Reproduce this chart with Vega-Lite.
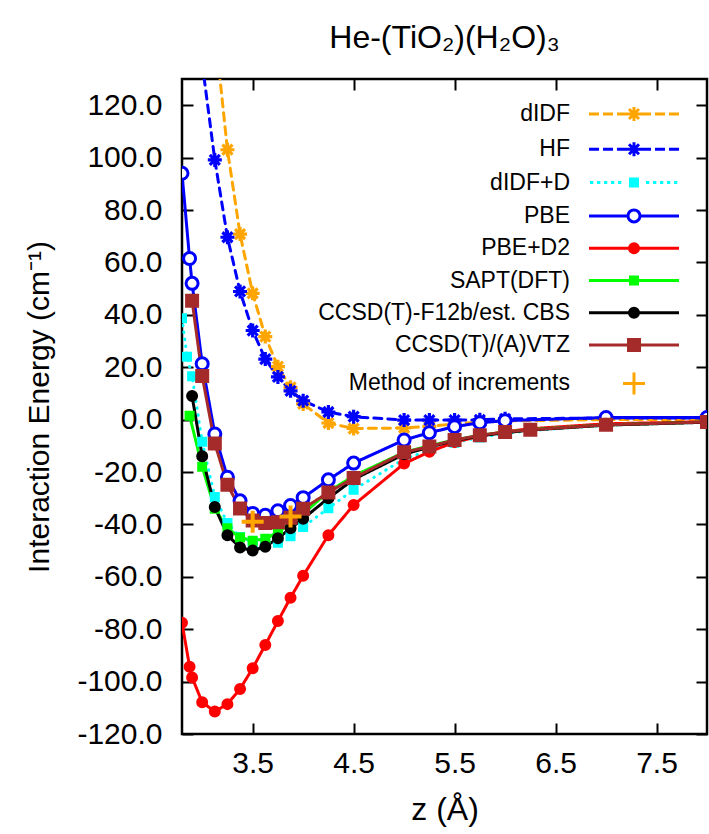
{
  "$schema": "https://vega.github.io/schema/vega-lite/v6.json",
  "width": 525,
  "height": 655,
  "autosize": {"type": "none"},
  "padding": {"left": 182, "top": 79, "right": 2, "bottom": 100},
  "background": "white",
  "title": {"text": "He-(TiO₂)(H₂O)₃", "fontSize": 32, "font": "Liberation Sans", "fontWeight": "normal", "color": "black", "anchor": "middle", "frame": "group", "offset": 23},
  "config": {"view": {"stroke": "black", "strokeWidth": 2.5}, "font": "Liberation Sans"},
  "data": {"values": [
    {"m":"dIDF","z":3.125,"e":149},{"m":"dIDF","z":3.25,"e":103.0},{"m":"dIDF","z":3.375,"e":70.8},{"m":"dIDF","z":3.5,"e":48.2},{"m":"dIDF","z":3.625,"e":31.7},{"m":"dIDF","z":3.75,"e":20.2},{"m":"dIDF","z":3.875,"e":12.3},{"m":"dIDF","z":4.0,"e":6.0},{"m":"dIDF","z":4.25,"e":-1.3},{"m":"dIDF","z":4.5,"e":-3.4},{"m":"dIDF","z":5.0,"e":-3.2},{"m":"dIDF","z":5.25,"e":-2.6},{"m":"dIDF","z":5.5,"e":-1.6},{"m":"dIDF","z":5.75,"e":-0.9},{"m":"dIDF","z":6.0,"e":-0.5},{"m":"dIDF","z":7.0,"e":0.0},{"m":"dIDF","z":8.0,"e":0.0},
    {"m":"HF","z":3.0,"e":136},{"m":"HF","z":3.125,"e":99.1},{"m":"HF","z":3.25,"e":69.6},{"m":"HF","z":3.375,"e":48.9},{"m":"HF","z":3.5,"e":34.0},{"m":"HF","z":3.625,"e":23.1},{"m":"HF","z":3.75,"e":16.3},{"m":"HF","z":3.875,"e":11.0},{"m":"HF","z":4.0,"e":7.2},{"m":"HF","z":4.25,"e":2.9},{"m":"HF","z":4.5,"e":1.1},{"m":"HF","z":5.0,"e":-0.2},{"m":"HF","z":5.25,"e":-0.2},{"m":"HF","z":5.5,"e":-0.2},{"m":"HF","z":5.75,"e":-0.1},{"m":"HF","z":6.0,"e":0.3},{"m":"HF","z":7.0,"e":0.6},{"m":"HF","z":8.0,"e":0.6},
    {"m":"dIDF+D","z":2.8,"e":38.7},{"m":"dIDF+D","z":2.85,"e":24.0},{"m":"dIDF+D","z":2.9,"e":16.5},{"m":"dIDF+D","z":3.0,"e":-8.5},{"m":"dIDF+D","z":3.125,"e":-29.5},{"m":"dIDF+D","z":3.25,"e":-39.5},{"m":"dIDF+D","z":3.375,"e":-44.8},{"m":"dIDF+D","z":3.5,"e":-46.8},{"m":"dIDF+D","z":3.625,"e":-47.5},{"m":"dIDF+D","z":3.75,"e":-47.0},{"m":"dIDF+D","z":3.875,"e":-44.5},{"m":"dIDF+D","z":4.0,"e":-41.0},{"m":"dIDF+D","z":4.25,"e":-33.8},{"m":"dIDF+D","z":4.5,"e":-26.8},{"m":"dIDF+D","z":5.0,"e":-15.0},{"m":"dIDF+D","z":5.25,"e":-11.8},{"m":"dIDF+D","z":5.5,"e":-8.8},{"m":"dIDF+D","z":5.75,"e":-6.8},{"m":"dIDF+D","z":6.0,"e":-5.3},{"m":"dIDF+D","z":6.25,"e":-4.2},{"m":"dIDF+D","z":7.0,"e":-2.2},{"m":"dIDF+D","z":8.0,"e":-1.0},
    {"m":"PBE","z":2.8,"e":94.0},{"m":"PBE","z":2.875,"e":61.5},{"m":"PBE","z":2.9,"e":52.0},{"m":"PBE","z":3.0,"e":21.3},{"m":"PBE","z":3.125,"e":-5.5},{"m":"PBE","z":3.25,"e":-22.0},{"m":"PBE","z":3.375,"e":-31.0},{"m":"PBE","z":3.5,"e":-35.8},{"m":"PBE","z":3.625,"e":-36.5},{"m":"PBE","z":3.75,"e":-34.8},{"m":"PBE","z":3.875,"e":-32.8},{"m":"PBE","z":4.0,"e":-29.8},{"m":"PBE","z":4.25,"e":-23.0},{"m":"PBE","z":4.5,"e":-16.6},{"m":"PBE","z":5.0,"e":-7.8},{"m":"PBE","z":5.25,"e":-5.0},{"m":"PBE","z":5.5,"e":-2.7},{"m":"PBE","z":5.75,"e":-1.2},{"m":"PBE","z":6.0,"e":-0.4},{"m":"PBE","z":7.0,"e":0.8},{"m":"PBE","z":8.0,"e":0.8},
    {"m":"PBE+D2","z":2.8,"e":-77.5},{"m":"PBE+D2","z":2.875,"e":-94.3},{"m":"PBE+D2","z":2.9,"e":-98.4},{"m":"PBE+D2","z":3.0,"e":-107.9},{"m":"PBE+D2","z":3.125,"e":-111.4},{"m":"PBE+D2","z":3.25,"e":-108.6},{"m":"PBE+D2","z":3.375,"e":-102.8},{"m":"PBE+D2","z":3.5,"e":-94.9},{"m":"PBE+D2","z":3.625,"e":-86.0},{"m":"PBE+D2","z":3.75,"e":-76.9},{"m":"PBE+D2","z":3.875,"e":-68.0},{"m":"PBE+D2","z":4.0,"e":-59.6},{"m":"PBE+D2","z":4.25,"e":-44.1},{"m":"PBE+D2","z":4.5,"e":-32.6},{"m":"PBE+D2","z":5.0,"e":-16.8},{"m":"PBE+D2","z":5.25,"e":-12.3},{"m":"PBE+D2","z":5.5,"e":-8.6},{"m":"PBE+D2","z":5.75,"e":-6.3},{"m":"PBE+D2","z":6.0,"e":-4.6},{"m":"PBE+D2","z":6.25,"e":-3.5},{"m":"PBE+D2","z":7.0,"e":-1.6},{"m":"PBE+D2","z":8.0,"e":-0.8},
    {"m":"SAPT(DFT)","z":2.875,"e":1.5},{"m":"SAPT(DFT)","z":3.0,"e":-18.0},{"m":"SAPT(DFT)","z":3.125,"e":-34.0},{"m":"SAPT(DFT)","z":3.25,"e":-41.5},{"m":"SAPT(DFT)","z":3.375,"e":-45.0},{"m":"SAPT(DFT)","z":3.5,"e":-46.2},{"m":"SAPT(DFT)","z":3.625,"e":-45.5},{"m":"SAPT(DFT)","z":3.75,"e":-43.0},{"m":"SAPT(DFT)","z":3.875,"e":-39.5},{"m":"SAPT(DFT)","z":4.0,"e":-36.0},{"m":"SAPT(DFT)","z":4.25,"e":-27.5},{"m":"SAPT(DFT)","z":4.5,"e":-21.5},{"m":"SAPT(DFT)","z":5.0,"e":-12.5},{"m":"SAPT(DFT)","z":5.25,"e":-10.0},{"m":"SAPT(DFT)","z":5.5,"e":-7.8},{"m":"SAPT(DFT)","z":5.75,"e":-6.0},{"m":"SAPT(DFT)","z":6.0,"e":-4.8},{"m":"SAPT(DFT)","z":6.25,"e":-3.8},{"m":"SAPT(DFT)","z":7.0,"e":-2.0},{"m":"SAPT(DFT)","z":8.0,"e":-0.9},
    {"m":"CCSD(T)-F12b/est. CBS","z":2.9,"e":9.0},{"m":"CCSD(T)-F12b/est. CBS","z":3.0,"e":-14.0},{"m":"CCSD(T)-F12b/est. CBS","z":3.125,"e":-33.4},{"m":"CCSD(T)-F12b/est. CBS","z":3.25,"e":-44.1},{"m":"CCSD(T)-F12b/est. CBS","z":3.375,"e":-48.8},{"m":"CCSD(T)-F12b/est. CBS","z":3.5,"e":-50.0},{"m":"CCSD(T)-F12b/est. CBS","z":3.625,"e":-48.5},{"m":"CCSD(T)-F12b/est. CBS","z":3.75,"e":-45.3},{"m":"CCSD(T)-F12b/est. CBS","z":3.875,"e":-41.5},{"m":"CCSD(T)-F12b/est. CBS","z":4.0,"e":-37.8},{"m":"CCSD(T)-F12b/est. CBS","z":4.25,"e":-30.0},{"m":"CCSD(T)-F12b/est. CBS","z":4.5,"e":-22.8},{"m":"CCSD(T)-F12b/est. CBS","z":5.0,"e":-13.2},{"m":"CCSD(T)-F12b/est. CBS","z":5.25,"e":-10.5},{"m":"CCSD(T)-F12b/est. CBS","z":5.5,"e":-8.0},{"m":"CCSD(T)-F12b/est. CBS","z":5.75,"e":-6.2},{"m":"CCSD(T)-F12b/est. CBS","z":6.0,"e":-5.0},{"m":"CCSD(T)-F12b/est. CBS","z":6.25,"e":-4.0},{"m":"CCSD(T)-F12b/est. CBS","z":7.0,"e":-2.1},{"m":"CCSD(T)-F12b/est. CBS","z":8.0,"e":-1.0},
    {"m":"CCSD(T)/(A)VTZ","z":2.9,"e":45.4},{"m":"CCSD(T)/(A)VTZ","z":3.0,"e":16.6},{"m":"CCSD(T)/(A)VTZ","z":3.125,"e":-9.1},{"m":"CCSD(T)/(A)VTZ","z":3.25,"e":-24.9},{"m":"CCSD(T)/(A)VTZ","z":3.375,"e":-33.9},{"m":"CCSD(T)/(A)VTZ","z":3.5,"e":-38.5},{"m":"CCSD(T)/(A)VTZ","z":3.625,"e":-39.5},{"m":"CCSD(T)/(A)VTZ","z":3.75,"e":-39.2},{"m":"CCSD(T)/(A)VTZ","z":3.875,"e":-37.5},{"m":"CCSD(T)/(A)VTZ","z":4.0,"e":-34.0},{"m":"CCSD(T)/(A)VTZ","z":4.25,"e":-27.8},{"m":"CCSD(T)/(A)VTZ","z":4.5,"e":-22.3},{"m":"CCSD(T)/(A)VTZ","z":5.0,"e":-12.5},{"m":"CCSD(T)/(A)VTZ","z":5.25,"e":-10.3},{"m":"CCSD(T)/(A)VTZ","z":5.5,"e":-7.8},{"m":"CCSD(T)/(A)VTZ","z":5.75,"e":-6.0},{"m":"CCSD(T)/(A)VTZ","z":6.0,"e":-4.7},{"m":"CCSD(T)/(A)VTZ","z":6.25,"e":-3.9},{"m":"CCSD(T)/(A)VTZ","z":7.0,"e":-2.0},{"m":"CCSD(T)/(A)VTZ","z":8.0,"e":-0.9},
    {"m":"Method of increments","z":3.5,"e":-39.0},{"m":"Method of increments","z":3.875,"e":-37.0}
  ]},
  "layer": [
    {
      "transform": [{"filter": "datum.m !== 'Method of increments'"}],
      "mark": {"type": "line", "strokeWidth": 3, "clip": true, "strokeCap": "round", "strokeJoin": "round"},
      "encoding": {
        "x": {"field": "z", "type": "quantitative", "scale": {"domain": [2.8, 8.0], "nice": false, "zero": false},
          "axis": {"orient": "bottom", "values": [3.5, 4.5, 5.5, 6.5, 7.5], "format": ".1f", "labelFontSize": 30, "labelFont": "Liberation Sans", "labelColor": "black", "tickSize": -11, "tickWidth": 2, "tickColor": "black", "domain": false, "grid": false, "labelPadding": 25, "labelFlush": false, "labelOverlap": false, "title": "z (Å)", "titleFontSize": 32, "titleFont": "Liberation Sans", "titleFontWeight": "normal", "titleColor": "black", "titlePadding": 16}},
        "y": {"field": "e", "type": "quantitative", "scale": {"domain": [-120, 130], "nice": false, "zero": false},
          "axis": {"orient": "left", "values": [-120, -100, -80, -60, -40, -20, 0, 20, 40, 60, 80, 100, 120], "labelExpr": "replace(format(datum.value, '.1f'), '\u2212', '-')", "labelFontSize": 30, "labelFont": "Liberation Sans", "labelColor": "black", "tickSize": -11, "tickWidth": 2, "tickColor": "black", "domain": false, "grid": false, "labelPadding": 31, "labelFlush": false, "labelOverlap": false, "title": "Interaction Energy (cm⁻¹)", "titleFontSize": 30, "titleFont": "Liberation Sans", "titleFontWeight": "normal", "titleColor": "black", "titlePadding": 22}},
        "stroke": {"field": "m", "type": "nominal"},
        "strokeDash": {"field": "m", "type": "nominal", "legend": null,
          "scale": {"domain": ["dIDF", "HF", "dIDF+D", "PBE", "PBE+D2", "SAPT(DFT)", "CCSD(T)-F12b/est. CBS", "CCSD(T)/(A)VTZ"],
                    "range": [[8, 6], [8, 6], [0.5, 6.5], [1, 0], [1, 0], [1, 0], [1, 0], [1, 0]]}}
      }
    },
    {
      "transform": [{"filter": {"field": "m", "oneOf": ["dIDF", "HF"]}}],
      "mark": {"type": "point", "shape": "M-1.4,0H1.4M0,-1.4V1.4M-1,-1L1,1M-1,1L1,-1", "size": 100, "filled": false, "strokeWidth": 3.2, "opacity": 1, "clip": true},
      "encoding": {
        "x": {"field": "z", "type": "quantitative", "axis": null},
        "y": {"field": "e", "type": "quantitative", "axis": null},
        "stroke": {"field": "m", "type": "nominal"}
      }
    },
    {
      "transform": [{"filter": {"field": "m", "oneOf": ["dIDF+D", "SAPT(DFT)"]}}],
      "mark": {"type": "point", "shape": "M-0.7,-0.7H0.7V0.7H-0.7Z", "size": 100, "filled": true, "strokeWidth": 3, "opacity": 1, "clip": true},
      "encoding": {
        "x": {"field": "z", "type": "quantitative", "axis": null},
        "y": {"field": "e", "type": "quantitative", "axis": null},
        "stroke": {"field": "m", "type": "nominal"},
        "fill": {"field": "m", "type": "nominal"}
      }
    },
    {
      "transform": [{"filter": {"field": "m", "oneOf": ["PBE"]}}],
      "mark": {"type": "point", "shape": "M-1.2,0A1.2,1.2,0,1,1,1.2,0A1.2,1.2,0,1,1,-1.2,0Z", "size": 100, "filled": true, "strokeWidth": 3, "opacity": 1, "clip": true},
      "encoding": {
        "x": {"field": "z", "type": "quantitative", "axis": null},
        "y": {"field": "e", "type": "quantitative", "axis": null},
        "stroke": {"field": "m", "type": "nominal"},
        "fill": {"field": "m", "type": "nominal"}
      }
    },
    {
      "transform": [{"filter": {"field": "m", "oneOf": ["PBE+D2", "CCSD(T)-F12b/est. CBS"]}}],
      "mark": {"type": "point", "shape": "M-0.9,0A0.9,0.9,0,1,1,0.9,0A0.9,0.9,0,1,1,-0.9,0Z", "size": 100, "filled": true, "strokeWidth": 3, "opacity": 1, "clip": true},
      "encoding": {
        "x": {"field": "z", "type": "quantitative", "axis": null},
        "y": {"field": "e", "type": "quantitative", "axis": null},
        "stroke": {"field": "m", "type": "nominal"},
        "fill": {"field": "m", "type": "nominal"}
      }
    },
    {
      "transform": [{"filter": {"field": "m", "oneOf": ["CCSD(T)/(A)VTZ"]}}],
      "mark": {"type": "point", "shape": "M-1.1,-1.1H1.1V1.1H-1.1Z", "size": 100, "filled": true, "strokeWidth": 3, "opacity": 1, "clip": true},
      "encoding": {
        "x": {"field": "z", "type": "quantitative", "axis": null},
        "y": {"field": "e", "type": "quantitative", "axis": null},
        "stroke": {"field": "m", "type": "nominal"},
        "fill": {"field": "m", "type": "nominal"}
      }
    },
    {
      "transform": [{"filter": {"field": "m", "oneOf": ["Method of increments"]}}],
      "mark": {"type": "point", "shape": "M-2.2,0H2.2M0,-2.2V2.2", "size": 100, "filled": false, "strokeWidth": 4, "opacity": 1, "clip": true},
      "encoding": {
        "x": {"field": "z", "type": "quantitative", "axis": null},
        "y": {"field": "e", "type": "quantitative", "axis": null},
        "stroke": {"field": "m", "type": "nominal"}
      }
    },
    {
      "mark": {"type": "point", "filled": true, "opacity": 0, "size": 100, "clip": true},
      "encoding": {
        "x": {"field": "z", "type": "quantitative",
          "axis": {"orient": "top", "values": [3.5, 4.5, 5.5, 6.5, 7.5], "labels": false, "tickSize": -11, "tickWidth": 2, "tickColor": "black", "domain": false, "grid": false, "title": null}},
        "y": {"field": "e", "type": "quantitative",
          "axis": {"orient": "right", "values": [-120, -100, -80, -60, -40, -20, 0, 20, 40, 60, 80, 100, 120], "labels": false, "tickSize": -11, "tickWidth": 2, "tickColor": "black", "domain": false, "grid": false, "title": null}},
        "shape": {"field": "m", "type": "nominal",
          "scale": {"domain": ["dIDF", "HF", "dIDF+D", "PBE", "PBE+D2", "SAPT(DFT)", "CCSD(T)-F12b/est. CBS", "CCSD(T)/(A)VTZ", "Method of increments"],
                    "range": [
                      "M-9,0H-7M-6.2,0H-4.2M-3.4,0H-1.4M1.4,0H3.4M4.2,0H6.2M7,0H9M-1.4,0H1.4M0,-1.4V1.4M-1,-1L1,1M-1,1L1,-1",
                      "M-9,0H-7M-6.2,0H-4.2M-3.4,0H-1.4M1.4,0H3.4M4.2,0H6.2M7,0H9M-1.4,0H1.4M0,-1.4V1.4M-1,-1L1,1M-1,1L1,-1",
                      "M-8.8,0H-8.14M-7.4,0H-6.74M-6,0H-5.34M-4.6,0H-3.94M-3.2,0H-2.54M2.4,0H3.06M3.8,0H4.46M5.2,0H5.86M6.6,0H7.26M8,0H8.66M-0.7,-0.7H0.7V0.7H-0.7Z",
                      "M-9,0H-1.2M1.2,0H9M-1.2,0A1.2,1.2,0,1,1,1.2,0A1.2,1.2,0,1,1,-1.2,0Z",
                      "M-9,0H9M-0.9,0A0.9,0.9,0,1,1,0.9,0A0.9,0.9,0,1,1,-0.9,0Z",
                      "M-9,0H9M-0.7,-0.7H0.7V0.7H-0.7Z",
                      "M-9,0H9M-0.9,0A0.9,0.9,0,1,1,0.9,0A0.9,0.9,0,1,1,-0.9,0Z",
                      "M-9,0H9M-1.1,-1.1H1.1V1.1H-1.1Z",
                      "M-2.2,0H2.2M0,-2.2V2.2"
                    ]},
          "legend": {"orient": "none", "legendX": 440.5, "legendY": 23.5, "title": null, "padding": 0, "labelAlign": "right", "labelBaseline": "middle", "labelOffset": -75.5, "labelFontSize": 23, "labelFont": "Liberation Sans", "labelColor": "black", "labelLimit": 500, "symbolSize": 100, "symbolStrokeWidth": 3, "symbolOpacity": 1, "rowPadding": 8.3}},
        "stroke": {"field": "m", "type": "nominal",
          "scale": {"domain": ["dIDF", "HF", "dIDF+D", "PBE", "PBE+D2", "SAPT(DFT)", "CCSD(T)-F12b/est. CBS", "CCSD(T)/(A)VTZ", "Method of increments"],
                    "range": ["#FFA500", "#0000FF", "#00FFFF", "#0000FF", "#FF0000", "#00FF00", "#000000", "#A52A2A", "#FFA500"]},
          "legend": {"orient": "none", "legendX": 440.5, "legendY": 23.5, "title": null, "padding": 0, "labelAlign": "right", "labelBaseline": "middle", "labelOffset": -75.5, "labelFontSize": 23, "labelFont": "Liberation Sans", "labelColor": "black", "labelLimit": 500, "symbolSize": 100, "symbolStrokeWidth": 3, "symbolOpacity": 1, "rowPadding": 8.3}},
        "fill": {"field": "m", "type": "nominal",
          "scale": {"domain": ["dIDF", "HF", "dIDF+D", "PBE", "PBE+D2", "SAPT(DFT)", "CCSD(T)-F12b/est. CBS", "CCSD(T)/(A)VTZ", "Method of increments"],
                    "range": ["#FFA500", "#0000FF", "#00FFFF", "#FFFFFF", "#FF0000", "#00FF00", "#000000", "#A52A2A", "#FFA500"]},
          "legend": {"orient": "none", "legendX": 440.5, "legendY": 23.5, "title": null, "padding": 0, "labelAlign": "right", "labelBaseline": "middle", "labelOffset": -75.5, "labelFontSize": 23, "labelFont": "Liberation Sans", "labelColor": "black", "labelLimit": 500, "symbolSize": 100, "symbolStrokeWidth": 3, "symbolOpacity": 1, "rowPadding": 8.3}}
      }
    }
  ],
  "resolve": {"axis": {"x": "independent", "y": "independent"}}
}
